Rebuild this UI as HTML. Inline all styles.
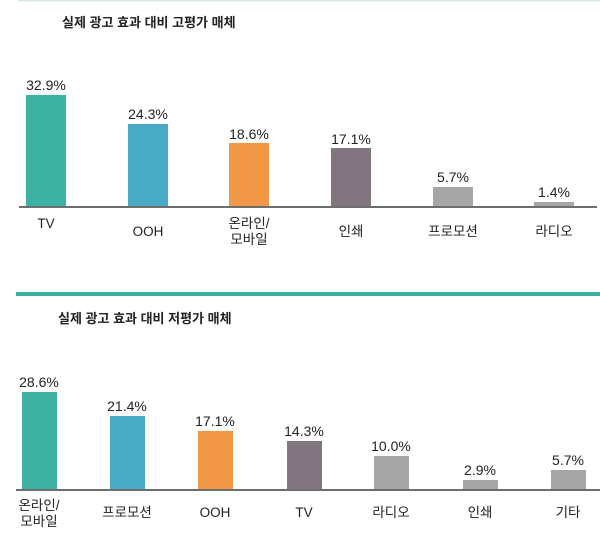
<!DOCTYPE html>
<html><head><meta charset="utf-8"><style>
html,body{margin:0;padding:0;background:#fff;}
svg{display:block;}
text{font-family:"Liberation Sans","Noto Sans CJK KR",sans-serif;fill:#222;}
.t{font-weight:bold;font-size:13px;}
.v{font-size:14px;text-anchor:middle;}
.c{font-size:13.5px;text-anchor:middle;}
</style></head><body>
<svg width="600" height="551" viewBox="0 0 600 551">
<rect x="18" y="0" width="582" height="1.5" fill="#dbe9e7"/>
<text class="t" x="62" y="27">실제 광고 효과 대비 고평가 매체</text>
<rect x="26" y="95" width="40" height="111" fill="#3cb2a3"/>
<rect x="128" y="124" width="40" height="82" fill="#49aac6"/>
<rect x="229" y="143" width="40" height="63" fill="#f39847"/>
<rect x="331" y="148" width="40" height="58" fill="#817580"/>
<rect x="433" y="187" width="40" height="19" fill="#a6a6a6"/>
<rect x="534" y="202" width="40" height="4" fill="#a6a6a6"/>
<rect x="19" y="206" width="578" height="2" fill="#6e6e6e"/>
<text class="v" x="46" y="90">32.9%</text>
<text class="v" x="148" y="119">24.3%</text>
<text class="v" x="249" y="139">18.6%</text>
<text class="v" x="351" y="144">17.1%</text>
<text class="v" x="453" y="182">5.7%</text>
<text class="v" x="554" y="197">1.4%</text>
<text class="c" x="46" y="228">TV</text>
<text class="c" x="148" y="236">OOH</text>
<text class="c" x="249" y="228">온라인/</text>
<text class="c" x="249" y="244">모바일</text>
<text class="c" x="351" y="236">인쇄</text>
<text class="c" x="453" y="236">프로모션</text>
<text class="c" x="554" y="236">라디오</text>

<rect x="16" y="292" width="584" height="4" fill="#3cb2a3"/>
<text class="t" x="58" y="323">실제 광고 효과 대비 저평가 매체</text>
<rect x="22" y="392" width="35" height="97" fill="#3cb2a3"/>
<rect x="110" y="416" width="35" height="73" fill="#49aac6"/>
<rect x="198" y="431" width="35" height="58" fill="#f39847"/>
<rect x="287" y="441" width="35" height="48" fill="#817580"/>
<rect x="374" y="456" width="35" height="33" fill="#a6a6a6"/>
<rect x="463" y="480" width="35" height="9" fill="#a6a6a6"/>
<rect x="551" y="470" width="35" height="19" fill="#a6a6a6"/>
<rect x="16" y="489" width="584" height="2" fill="#6e6e6e"/>
<text class="v" x="39" y="387">28.6%</text>
<text class="v" x="127" y="411">21.4%</text>
<text class="v" x="215" y="426">17.1%</text>
<text class="v" x="304" y="436">14.3%</text>
<text class="v" x="391" y="451">10.0%</text>
<text class="v" x="480" y="475">2.9%</text>
<text class="v" x="568" y="465">5.7%</text>
<text class="c" x="39" y="510">온라인/</text>
<text class="c" x="39" y="526">모바일</text>
<text class="c" x="127" y="517">프로모션</text>
<text class="c" x="215" y="517">OOH</text>
<text class="c" x="304" y="517">TV</text>
<text class="c" x="391" y="517">라디오</text>
<text class="c" x="480" y="517">인쇄</text>
<text class="c" x="568" y="517">기타</text>
</svg>
</body></html>
